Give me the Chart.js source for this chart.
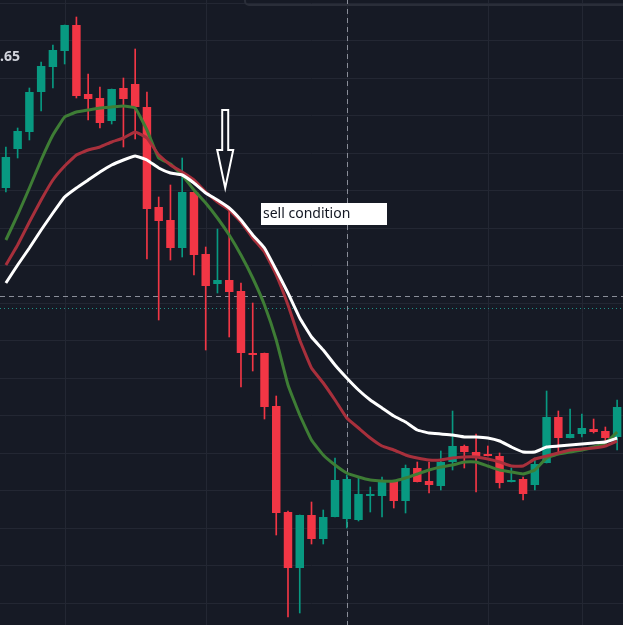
<!DOCTYPE html>
<html>
<head>
<meta charset="utf-8">
<script src="https://cdn.jsdelivr.net/npm/chart.js@4.4.0/dist/chart.umd.min.js"></script>
<style>
  html, body { margin: 0; padding: 0; background: #161a25; }
  #wrap { width: 623px; height: 625px; }
</style>
</head>
<body>
<div id="wrap"><canvas id="chart"></canvas></div>
<script>
// price axis is read straight off the screenshot (top = 0), so the scale is reversed
const opens  = [188,149,132,92,67,51,25,94,98,121,88,84,107,207,220,248,192,254,284,280,291,353,353,406,512,568,515,539,517,519,520,496,496,481,501,468,481,486,462,446,452,456,456,482,479,485,463,417,438,434,429,431,437];
const closes = [157,131,92,66,50,25,96,99,123,89,99,107,209,221,248,192,255,286,280,292,353,355,407,513,568,515,539,517,480,479,494,494,480,501,468,482,485,462,446,452,456,456,483,480,494,464,417,438,434,428,432,438,407];
const highs  = [147,128,88,62,45,25,17,74,87,89,78,49,92,197,185,158,192,247,229,207,283,303,353,396,511,515,502,510,458,475,478,487,477,481,465,462,462,451,411,445,434,446,453,468,477,458,391,411,409,414,419,427,400];
const lows   = [192,158,140,111,88,64,98,120,128,124,147,139,259,320,260,257,275,350,293,337,387,371,419,535,617,613,544,544,517,528,521,512,517,508,513,482,493,490,470,468,492,456,488,482,500,490,463,452,438,437,433,443,450];
const emaFast = [240,215,188,160,135,117,112,110,108,107,106,108,130,158,164,175,190,203,218,235,255,278,305,340,385,415,440,455,465,473,477,480,481,481,478,474,470,467,465,462,462,466,470,472,474,470,458,454,452,450,447,443,432];
const emaMid  = [265,245,222,200,180,166,155,150,147,142,138,132,138,155,165,172,180,192,202,210,222,238,252,275,305,340,368,383,400,418,428,438,446,450,455,458,460,460,458,457,457,459,462,466,466,459,456,453,450,449,448,446,441];
const emaSlow = [283,265,248,230,213,197,188,180,172,165,160,156,160,168,173,175,183,193,200,208,220,235,248,270,293,318,337,350,365,378,390,400,408,416,422,430,433,434,435,437,437,438,441,447,452,452,447,446,445,444,443,442,438];

const labels = opens.map((_, i) => i);
const up = opens.map((o, i) => closes[i] < o); // reversed axis: smaller = higher
const GREEN = "#089981", RED = "#f23645";
const candleColors = up.map(u => u ? GREEN : RED);

const gridX = [5, 17, 29, 41, 49];
const gridY = [3, 40, 78, 115, 153, 190, 228, 265, 303, 340, 378, 415, 453, 490, 528, 565, 603];

const decor = {
  id: "decor",
  beforeDatasetsDraw(chart) {
    const { ctx } = chart;
    const xs = chart.scales.x, ys = chart.scales.y;
    ctx.save();
    ctx.strokeStyle = "#232733";
    ctx.lineWidth = 1;
    gridX.forEach(i => {
      const x = Math.round(xs.getPixelForValue(i)) + 0.5;
      ctx.beginPath(); ctx.moveTo(x, 0); ctx.lineTo(x, 625); ctx.stroke();
    });
    gridY.forEach(v => {
      const y = Math.round(ys.getPixelForValue(v)) + 0.5;
      ctx.beginPath(); ctx.moveTo(0, y); ctx.lineTo(623, y); ctx.stroke();
    });
    // price line
    ctx.strokeStyle = "#1f8f86";
    ctx.setLineDash([1, 3]);
    let y = ys.getPixelForValue(308) + 0.5;
    ctx.beginPath(); ctx.moveTo(0, y); ctx.lineTo(623, y); ctx.stroke();
    // crosshair
    ctx.strokeStyle = "#8a8e99";
    ctx.setLineDash([5, 4]);
    const cx = Math.round(xs.getPixelForValue(29)) + 0.5;
    ctx.beginPath(); ctx.moveTo(cx, 0); ctx.lineTo(cx, 625); ctx.stroke();
    y = ys.getPixelForValue(296) + 0.5;
    ctx.beginPath(); ctx.moveTo(0, y); ctx.lineTo(623, y); ctx.stroke();
    ctx.restore();
  },
  afterDatasetsDraw(chart) {
    const { ctx } = chart;
    const xs = chart.scales.x, ys = chart.scales.y;
    ctx.save();
    // arrow
    const ax = xs.getPixelForValue(19) - 4;
    const top = ys.getPixelForValue(110), bot = ys.getPixelForValue(188), mid = ys.getPixelForValue(150);
    ctx.strokeStyle = "#ffffff"; ctx.fillStyle = "#161a25"; ctx.lineWidth = 2;
    ctx.beginPath();
    ctx.moveTo(ax - 3, top); ctx.lineTo(ax + 3, top); ctx.lineTo(ax + 3, mid);
    ctx.lineTo(ax + 8, mid); ctx.lineTo(ax, bot); ctx.lineTo(ax - 8, mid);
    ctx.lineTo(ax - 3, mid); ctx.closePath();
    ctx.fill(); ctx.stroke();
    // label
    ctx.fillStyle = "#ffffff";
    ctx.fillRect(261, 203, 126, 22);
    ctx.fillStyle = "#131722";
    ctx.font = "14px 'Noto Sans', sans-serif";
    ctx.textBaseline = "middle";
    ctx.fillText("sell condition", 263, 214);
    ctx.fillStyle = "#d1d4dc";
    ctx.font = "bold 14px 'Noto Sans', sans-serif";
    ctx.fillText(".65", 0, 57);
    // top-right panel edge
    ctx.strokeStyle = "#2a2e39"; ctx.lineWidth = 2;
    ctx.beginPath(); ctx.roundRect(245, -10, 400, 15, 4); ctx.stroke();
    ctx.restore();
  }
};

new Chart(document.getElementById("chart"), {
  type: "bar",
  data: {
    labels,
    datasets: [
      { type: "line", data: emaSlow, borderColor: "#ffffff", borderWidth: 3, pointRadius: 0, tension: 0.1, order: 0 },
      { type: "line", data: emaMid, borderColor: "#a8303c", borderWidth: 3, pointRadius: 0, tension: 0.1, order: 0 },
      { type: "line", data: emaFast, borderColor: "#3e7d35", borderWidth: 3, pointRadius: 0, tension: 0.1, order: 0 },
      { data: opens.map((o, i) => [o, closes[i]]), backgroundColor: candleColors, barPercentage: 0.72, categoryPercentage: 1, grouped: false, minBarLength: 2, order: 1 },
      { data: lows.map((l, i) => [l, highs[i]]), backgroundColor: candleColors, barThickness: 1, grouped: false, order: 2 }
    ]
  },
  options: {
    responsive: true,
    maintainAspectRatio: false,
    animation: false,
    layout: { padding: 0 },
    plugins: { legend: { display: false }, tooltip: { enabled: false } },
    scales: {
      x: { display: false, offset: true },
      y: { display: false, reverse: true, min: 0, max: 625 }
    }
  },
  plugins: [decor]
});
</script>
</body>
</html>
